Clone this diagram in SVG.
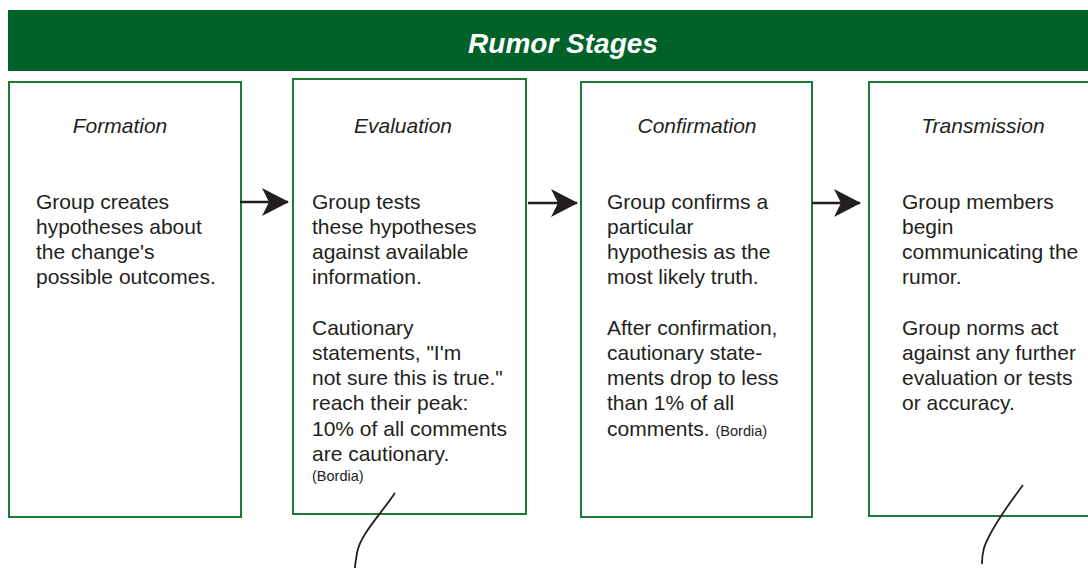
<svg xmlns="http://www.w3.org/2000/svg" width="1088" height="568" viewBox="0 0 1088 568">
<style>
.box{fill:#fff;stroke:#1d7a35;stroke-width:2}
.hd{font-family:"Liberation Sans",Arial,sans-serif;font-style:italic;font-size:21px;fill:#231f20;text-anchor:middle}
.tx{font-family:"Liberation Sans",Arial,sans-serif;font-size:21px;fill:#231f20}
.sm{font-size:14.5px}
.conn{stroke:#231f20;stroke-width:2.5;fill:none}
.squig{stroke:#231f20;stroke-width:1.8;fill:none}
</style>
<defs>
<marker id="ah" markerWidth="27" markerHeight="28" refX="26" refY="14" orient="auto" markerUnits="userSpaceOnUse" viewBox="0 0 27 28">
<path d="M0,0 L27,14 L0,28 L7,14 Z" fill="#231f20"/>
</marker>
</defs>
<rect width="1088" height="568" fill="#fff"/>
<g id="header">
<rect x="8" y="10" width="1080" height="61" fill="#006129"/>
<text x="563" y="53" font-family="'Liberation Sans',Arial,sans-serif" font-size="28" font-weight="bold" font-style="italic" fill="#fff" text-anchor="middle">Rumor Stages</text>
</g>
<g id="formation">
<rect class="box" x="9" y="82" width="232" height="435"/>
<text class="hd" x="120" y="133">Formation</text>
<text class="tx" x="36" y="209">Group creates</text>
<text class="tx" x="36" y="234">hypotheses about</text>
<text class="tx" x="36" y="259">the change's</text>
<text class="tx" x="36" y="284">possible outcomes.</text>
</g>
<g id="evaluation">
<rect class="box" x="293" y="79" width="233" height="435"/>
<text class="hd" x="403" y="133">Evaluation</text>
<text class="tx" x="312" y="209">Group tests</text>
<text class="tx" x="312" y="234">these hypotheses</text>
<text class="tx" x="312" y="259">against available</text>
<text class="tx" x="312" y="284">information.</text>
<text class="tx" x="312" y="335">Cautionary</text>
<text class="tx" x="312" y="360">statements, "I'm</text>
<text class="tx" x="312" y="385">not sure this is true."</text>
<text class="tx" x="312" y="410">reach their peak:</text>
<text class="tx" x="312" y="436">10% of all comments</text>
<text class="tx" x="312" y="461">are cautionary.</text>
<text class="tx sm" x="312" y="481">(Bordia)</text>
</g>
<g id="confirmation">
<rect class="box" x="581" y="82" width="231" height="435"/>
<text class="hd" x="697" y="133">Confirmation</text>
<text class="tx" x="607" y="209">Group confirms a</text>
<text class="tx" x="607" y="234">particular</text>
<text class="tx" x="607" y="259">hypothesis as the</text>
<text class="tx" x="607" y="284">most likely truth.</text>
<text class="tx" x="607" y="335">After confirmation,</text>
<text class="tx" x="607" y="360">cautionary state-</text>
<text class="tx" x="607" y="385">ments drop to less</text>
<text class="tx" x="607" y="410">than 1% of all</text>
<text class="tx" x="607" y="436">comments. <tspan class="sm">(Bordia)</tspan></text>
</g>
<g id="transmission">
<rect class="box" x="869" y="82" width="230" height="434"/>
<text class="hd" x="983" y="133">Transmission</text>
<text class="tx" x="902" y="209">Group members</text>
<text class="tx" x="902" y="234">begin</text>
<text class="tx" x="902" y="259">communicating the</text>
<text class="tx" x="902" y="284">rumor.</text>
<text class="tx" x="902" y="335">Group norms act</text>
<text class="tx" x="902" y="360">against any further</text>
<text class="tx" x="902" y="385">evaluation or tests</text>
<text class="tx" x="902" y="410">or accuracy.</text>
</g>
<g id="connectors">
<path class="conn" d="M240,202 H288" marker-end="url(#ah)"/>
<path class="conn" d="M528,203 H577" marker-end="url(#ah)"/>
<path class="conn" d="M812,203 H860" marker-end="url(#ah)"/>
<path class="squig" d="M395,493 C380,515 360,535 357,553 C356,560 355,564 355,568"/>
<path class="squig" d="M1023,485 C1008,505 990,530 984,548 C982,555 982,559 982,564"/>
</g>
</svg>
